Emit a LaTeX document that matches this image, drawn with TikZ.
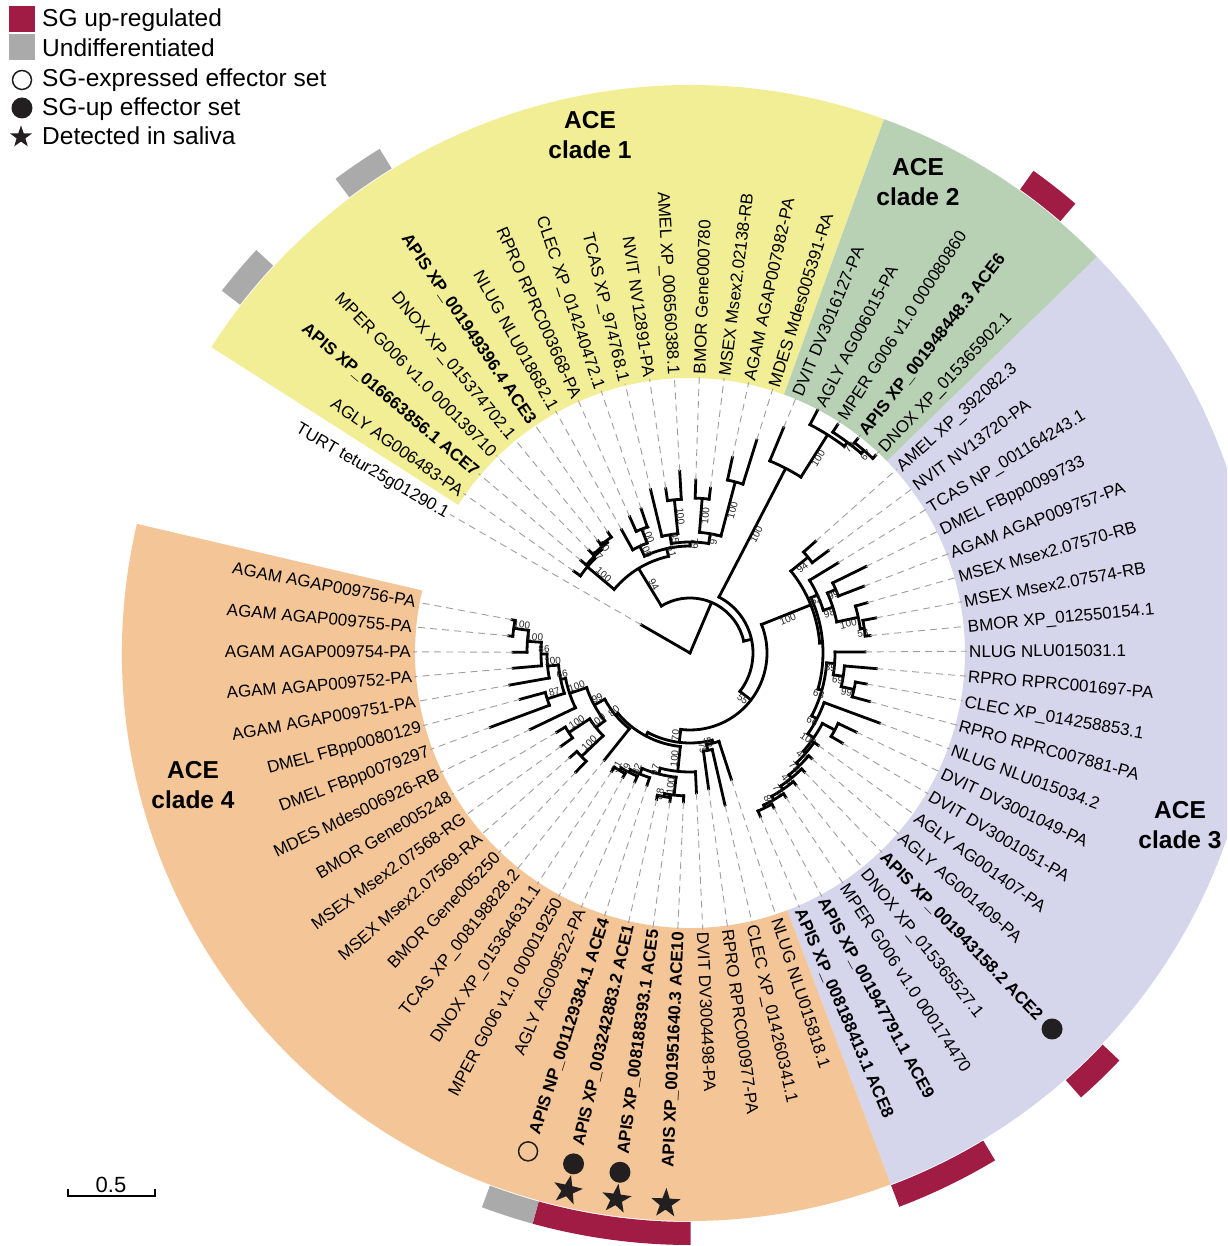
\documentclass[tikz,border=0pt]{standalone}
\usepackage{fontspec}
\setmainfont{Liberation Sans}
\usetikzlibrary{shapes.geometric}

\definecolor{cladeone}{HTML}{F2EE96}
\definecolor{cladetwo}{HTML}{B8D1B5}
\definecolor{cladethree}{HTML}{D5D5EB}
\definecolor{cladefour}{HTML}{F4C697}
\definecolor{sgup}{HTML}{A01C44}
\definecolor{undiff}{HTML}{AAAAAA}
\definecolor{inkdark}{HTML}{231F20}

% angle of a leaf position (0 = TURT, going clockwise)
\newcommand\leafang[1]{150-5.16*(#1)}
\newcount\bootno
% bootstrap value on the branch leading to a node
\newcommand\boot[4]{%
  \global\advance\bootno by 1
  \pgfmathsetmacro\bta{150-5.16*(#1)}%
  \pgfmathsetmacro\btr{(#2+#3)/2}%
  \pgfmathtruncatemacro\btl{(\bta>90 || \bta<-90) ? 1 : 0}%
  \ifnum\btl=1
    \node[boot, rotate=\bta+180, anchor=south] (bs\the\bootno) at (\bta:\btr pt) {#4};
  \else
    \node[boot, rotate=\bta, anchor=north] (bs\the\bootno) at (\bta:\btr pt) {#4};
  \fi}
% internal node: position, parent radius, radius, first child, last child, support
\newcommand\clade[6]{%
  \draw[branch] ({\leafang{#1}}:#2pt) -- ({\leafang{#1}}:#3pt)
    ({\leafang{#4}}:#3pt) arc[start angle={\leafang{#4}}, end angle={\leafang{#5}}, radius=#3pt];
  \if\relax\detokenize{#6}\relax\else\boot{#1}{#2}{#3}{#6}\fi}
% ring sector: colour, from, to, inner radius, outer radius
\newcommand\bandfill[5]{%
  \fill[#1] ({\leafang{#2}}:#4pt) arc[start angle={\leafang{#2}}, end angle={\leafang{#3}}, radius=#4pt]
    -- ({\leafang{#3}}:#5pt) arc[start angle={\leafang{#3}}, end angle={\leafang{#2}}, radius=#5pt] -- cycle;}

\begin{document}
\begin{tikzpicture}[branch/.style={line width=2.8pt, line cap=rect, black},
  leaf/.style={inner sep=0pt, font=\fontsize{17}{20}\selectfont, text height=12.2pt, text depth=0pt},
  guide/.style={black!38, line width=0.9pt, dash pattern=on 7pt off 5pt, shorten >=2pt},
  boot/.style={inner sep=0.8pt, font=\fontsize{10}{11}\selectfont, black!85},
  cladelab/.style={align=center, font=\fontsize{24.5}{30}\selectfont\bfseries},
  legtext/.style={anchor=base west, inner sep=0pt, font=\fontsize{24.5}{28}\selectfont},
  legbox/.style={minimum size=26pt, inner sep=0pt},
  fillmark/.style={circle, fill=inkdark, minimum size=21pt, inner sep=0pt},
  openmark/.style={circle, draw=inkdark, line width=1.5pt, minimum size=19pt, inner sep=0pt},
  starmark/.style={star, star points=5, star point ratio=2.5, fill=inkdark, minimum size=31pt, inner sep=0pt}]
\useasboundingbox (-690pt,-593pt) rectangle (537pt,653pt);
\clip (-690pt,-593pt) rectangle (537pt,653pt);
\fill[white] (-690pt,-593pt) rectangle (537pt,653pt);

% clade sectors
\bandfill{cladeone}{0.5}{15.5}{275}{568}
\bandfill{cladetwo}{15.5}{20.5}{275}{568}
\bandfill{cladethree}{20.5}{42.5}{275}{568}
\bandfill{cladefour}{42.5}{66.5}{275}{568}
% expression bars
\bandfill{undiff}{1.5}{2.5}{569}{592}
\bandfill{undiff}{4.5}{5.5}{569}{592}
\bandfill{sgup}{18.5}{19.5}{569}{592}
\bandfill{sgup}{37.5}{38.5}{569}{592}
\bandfill{sgup}{40.5}{42.5}{569}{592}
\bandfill{sgup}{46.5}{49.5}{569}{592}
\bandfill{undiff}{49.5}{50.5}{569}{592}

% tree
\clade{16.103}{0}{55}{5.5625}{26.644}{}
\clade{5.5625}{55}{99}{1.9375}{9.1875}{94}
\clade{1.9375}{99}{134}{1}{2.875}{100}
\clade{2.875}{134}{136}{2}{3.75}{47}
\clade{3.75}{136}{138}{3}{4.5}{60}
\clade{4.5}{138}{140}{4}{5}{}
\clade{9.1875}{99}{107}{6.75}{11.625}{61}
\clade{6.75}{107}{118}{6}{7.5}{100}
\clade{7.5}{118}{133}{7}{8}{100}
\clade{11.625}{107}{111}{9.75}{13.5}{79}
\clade{9.75}{111}{120}{9}{10.5}{45}
\clade{10.5}{120}{154}{10}{11}{100}
\clade{13.5}{111}{121}{12.5}{14.5}{97}
\clade{12.5}{121}{155}{12}{13}{100}
\clade{14.5}{121}{177}{14}{15}{100}
\clade{26.644}{55}{63}{16.9375}{36.351}{}
\clade{16.9375}{63}{208}{16}{17.875}{100}
\clade{17.875}{208}{258}{17}{18.75}{100}
\clade{18.75}{258}{263}{18}{19.5}{79}
\clade{19.5}{263}{267}{19}{20}{67}
\clade{36.351}{63}{77}{24.859}{47.843}{55}
\clade{24.859}{77}{130}{21.5}{28.218}{100}
\clade{21.5}{130}{152}{21}{22}{94}
\clade{28.218}{130}{133}{24.3125}{32.123}{}
\clade{24.3125}{133}{140}{23}{25.625}{52}
\clade{25.625}{140}{150}{24.5}{26.75}{98}
\clade{24.5}{150}{159}{24}{25}{99}
\clade{26.75}{150}{172}{26}{27.5}{100}
\clade{27.5}{172}{176}{27}{28}{53}
\clade{32.123}{133}{137}{29.875}{34.371}{63}
\clade{29.875}{137}{145}{29}{30.75}{85}
\clade{30.75}{145}{155}{30}{31.5}{69}
\clade{31.5}{155}{168}{31}{32}{99}
\clade{34.371}{137}{143}{33}{35.742}{66}
\clade{35.742}{143}{150}{34.5}{36.984}{100}
\clade{34.5}{150}{164}{34}{35}{}
\clade{36.984}{150}{153}{36}{37.969}{47}
\clade{37.969}{153}{157}{37}{38.9375}{78}
\clade{38.9375}{157}{161}{38}{39.875}{46}
\clade{39.875}{161}{165}{39}{40.75}{75}
\clade{40.75}{165}{169}{40}{41.5}{84}
\clade{41.5}{169}{172}{41}{42}{}
\clade{47.843}{77}{90}{43.75}{51.936}{70}
\clade{43.75}{90}{93}{43}{44.5}{52}
\clade{44.5}{93}{99}{44}{45}{79}
\clade{51.936}{90}{94}{47.656}{56.215}{}
\clade{47.656}{94}{119}{46}{49.3125}{100}
\clade{49.3125}{119}{125}{47.75}{50.875}{97}
\clade{47.75}{125}{143}{47}{48.5}{100}
\clade{48.5}{143}{146}{48}{49}{88}
\clade{50.875}{125}{131}{50}{51.75}{82}
\clade{51.75}{131}{134}{51}{52.5}{69}
\clade{52.5}{134}{137}{52}{53}{51}
\clade{56.215}{94}{97}{54}{58.43}{80}
\clade{58.43}{97}{109}{56.5}{60.359}{99}
\clade{56.5}{109}{120}{55.5}{57.5}{100}
\clade{55.5}{120}{150}{55}{56}{100}
\clade{57.5}{120}{145}{57}{58}{100}
\clade{60.359}{109}{127}{59}{61.719}{100}
\clade{61.719}{127}{132}{60.5}{62.9375}{66}
\clade{60.5}{132}{150}{60}{61}{87}
\clade{62.9375}{132}{143}{62}{63.875}{100}
\clade{63.875}{143}{149}{63}{64.75}{86}
\clade{64.75}{149}{163}{64}{65.5}{100}
\clade{65.5}{163}{178}{65}{66}{100}

% leaves: position / parent radius / tip radius / label
\foreach \i/\rp/\rt/\txt in {
  0/0/56/{TURT tetur25g01290.1},
  1/134/142/{AGLY AG006483-PA},
  2/136/143/{\textbf{APIS XP\_016663856.1 ACE7}},
  3/138/144/{MPER G006 v1.0 000139710},
  4/140/145/{DNOX XP\_015374702.1},
  5/140/146/{\textbf{APIS XP\_001949396.4 ACE3}},
  6/118/141/{NLUG NLU018682.1},
  7/133/149/{RPRO RPRC003668-PA},
  8/133/152/{CLEC XP\_014240472.1},
  9/120/168/{TCAS XP\_974768.1},
  10/154/166/{NVIT NV12891-PA},
  11/154/182/{AMEL XP\_006560388.1},
  12/155/173/{BMOR Gene000780},
  13/155/166/{MSEX Msex2.02138-RB},
  14/177/200/{AGAM AGAP007982-PA},
  15/177/223/{MDES Mdes005391-RA},
  16/208/244/{DVIT DV3016127-PA},
  17/258/274/{AGLY AG006015-PA},
  18/263/272/{MPER G006 v1.0 000080860},
  19/267/272/{\textbf{APIS XP\_001948448.3 ACE6}},
  20/267/271/{DNOX XP\_015365902.1},
  21/152/168/{AMEL XP\_392082.3},
  22/152/172/{NVIT NV13720-PA},
  23/140/173/{TCAS NP\_001164243.1},
  24/159/196/{DMEL FBpp0099733},
  25/159/186/{AGAM AGAP009757-PA},
  26/172/184/{MSEX Msex2.07570-RB},
  27/176/189/{MSEX Msex2.07574-RB},
  28/176/181/{BMOR XP\_012550154.1},
  29/145/175/{NLUG NLU015031.1},
  30/155/187/{RPRO RPRC001697-PA},
  31/168/179/{CLEC XP\_014258853.1},
  32/168/186/{RPRO RPRC007881-PA},
  33/143/202/{NLUG NLU015034.2},
  34/164/184/{DVIT DV3001049-PA},
  35/164/177/{DVIT DV3001051-PA},
  36/153/158/{AGLY AG001407-PA},
  37/157/161/{AGLY AG001409-PA},
  38/161/165/{\textbf{APIS XP\_001943158.2 ACE2}},
  39/165/169/{DNOX XP\_015365527.1},
  40/169/173/{MPER G006 v1.0 000174470},
  41/172/176/{\textbf{APIS XP\_001947791.1 ACE9}},
  42/172/178/{\textbf{APIS XP\_008188413.1 ACE8}},
  43/93/133/{NLUG NLU015818.1},
  44/99/156/{CLEC XP\_014260341.1},
  45/99/137/{RPRO RPRC000977-PA},
  46/119/140/{DVIT DV3004498-PA},
  47/143/149/{\textbf{APIS XP\_001951640.3 ACE10}},
  48/146/150/{\textbf{APIS XP\_008188393.1 ACE5}},
  49/146/150/{\textbf{APIS XP\_003242883.2 ACE1}},
  50/131/139/{\textbf{APIS NP\_001129384.1 ACE4}},
  51/134/140/{AGLY AG009522-PA},
  52/137/141/{MPER G006 v1.0 000019250},
  53/137/142/{DNOX XP\_015364631.1},
  54/97/137/{TCAS XP\_008198828.2},
  55/150/165/{BMOR Gene005250},
  56/150/159/{MSEX Msex2.07569-RA},
  57/145/159/{MSEX Msex2.07568-RG},
  58/145/155/{BMOR Gene005248},
  59/127/177/{MDES Mdes006926-RB},
  60/150/213/{DMEL FBpp0079297},
  61/150/176/{DMEL FBpp0080129},
  62/143/183/{AGAM AGAP009751-PA},
  63/149/177.5/{AGAM AGAP009752-PA},
  64/163/177/{AGAM AGAP009754-PA},
  65/178/182/{AGAM AGAP009755-PA},
  66/178/181/{AGAM AGAP009756-PA}} {
  \pgfmathsetmacro\leafa{150-5.16*\i}
  \pgfmathtruncatemacro\lside{(\leafa>90 || \leafa<-90) ? 1 : 0}
  \draw[branch] (\leafa:\rp pt) -- (\leafa:\rt pt) coordinate (tip\i);
  \ifnum\lside=1
    \node[leaf, anchor=east, rotate=\leafa+180] (lab\i) at (\leafa:279pt) {\txt};
  \else
    \node[leaf, anchor=west, rotate=\leafa] (lab\i) at (\leafa:279pt) {\txt};
  \fi
  \draw[guide] (tip\i) -- (lab\i);
}

% effector sets and saliva
\node[fillmark] (set38) at ({\leafang{38}}:522pt) {};
\node[fillmark] (set48) at ({\leafang{48}}:524pt) {};
\node[fillmark] (set49) at ({\leafang{49}}:524pt) {};
\node[openmark] (set50) at ({\leafang{50}}:524pt) {};
\node[starmark, rotate={\leafang{47}+90}] (sal47) at ({\leafang{47}}:551pt) {};
\node[starmark, rotate={\leafang{48}+90}] (sal48) at ({\leafang{48}}:551pt) {};
\node[starmark, rotate={\leafang{49}+90}] (sal49) at ({\leafang{49}}:551pt) {};

% clade names
\node[cladelab] (nameone) at (-100pt,518pt) {ACE\\clade 1};
\node[cladelab] (nametwo) at (228pt,471pt) {ACE\\clade 2};
\node[cladelab] (namethree) at (490pt,-172pt) {ACE\\clade 3};
\node[cladelab] (namefour) at (-497pt,-132pt) {ACE\\clade 4};

% legend
\node[legbox, fill=sgup] (keyup) at (-667.5pt,634pt) {};
\node[legbox, fill=undiff] (keynd) at (-667.5pt,606pt) {};
\node[openmark] (keyopen) at (-668pt,573pt) {};
\node[fillmark] (keyfill) at (-668pt,545pt) {};
\node[starmark, minimum size=23pt] (keystar) at (-669pt,516pt) {};
\node[legtext] (txtup) at (-648pt,626pt) {SG up-regulated};
\node[legtext] (txtnd) at (-648pt,596pt) {Undifferentiated};
\node[legtext] (txtopen) at (-648pt,566.5pt) {SG-expressed effector set};
\node[legtext] (txtfill) at (-648pt,537.5pt) {SG-up effector set};
\node[legtext] (txtstar) at (-648pt,508pt) {Detected in saliva};

% scale bar
\draw[line width=2.4pt] (-622pt,-536pt) -- (-622pt,-543pt) -- (-535pt,-543pt) -- (-535pt,-536pt);
\node[anchor=base, inner sep=0pt, font=\fontsize{22}{24}\selectfont] (scale) at (-579pt,-539pt) {0.5};
\end{tikzpicture}
\end{document}
